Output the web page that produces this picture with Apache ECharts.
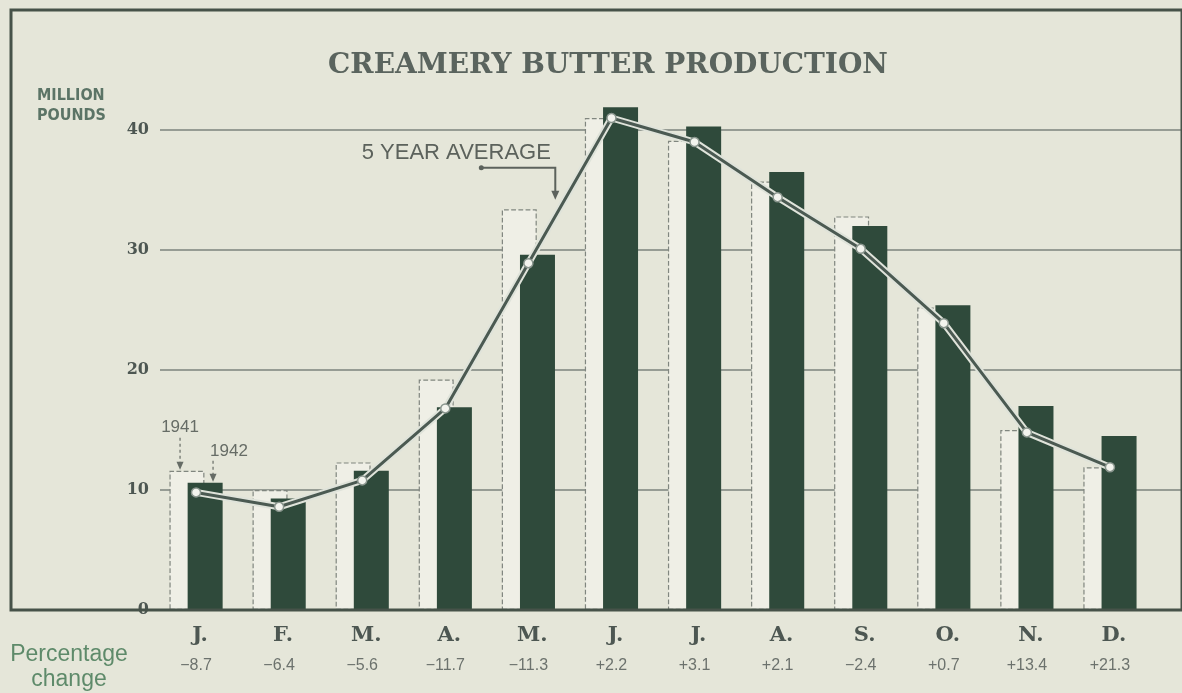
<!DOCTYPE html>
<html><head><meta charset="utf-8">
<script src="https://cdn.jsdelivr.net/npm/echarts@6/dist/echarts.min.js"></script>
<style>html,body{margin:0;padding:0;background:#e5e6d9;}#c{width:1182px;height:693px;}</style>
</head><body><div id="c"></div>
<script>
// ---- data ----
const monthKeys = ['Jan','Feb','Mar','Apr','May','Jun','Jul','Aug','Sep','Oct','Nov','Dec'];
const monthLabels = ['J.','F.','M.','A.','M.','J.','J.','A.','S.','O.','N.','D.'];
const prod1941 = [11.6, 10.0, 12.3, 19.2, 33.4, 41.0, 39.1, 35.7, 32.8, 25.2, 15.0, 11.9];
const prod1942 = [10.6, 9.3, 11.6, 16.9, 29.6, 41.9, 40.3, 36.5, 32.0, 25.4, 17.0, 14.5];
const fiveYearAvg = [9.8, 8.6, 10.8, 16.8, 28.9, 41.0, 39.0, 34.4, 30.1, 23.9, 14.8, 11.9];
const pctChange = ['\u22128.7','\u22126.4','\u22125.6','\u221211.7','\u221211.3','+2.2','+3.1','+2.1','\u22122.4','+0.7','+13.4','+21.3'];
const yTickLabels = ['0','10','20','30','40'];

const chart = echarts.init(document.getElementById('c'), null, {renderer: 'canvas'});

const option = {
  animation: false,
  backgroundColor: '#e5e6d9',
  title: [
    {text: 'CREAMERY BUTTER PRODUCTION', left: 603, top: 47, textAlign: 'center',
     textStyle: {fontFamily: 'DejaVu Serif', fontWeight: 'bold', fontSize: 28, color: '#5a645e'}},
    {text: 'MILLION\nPOUNDS', left: 32, top: 81,
     textStyle: {fontFamily: 'DejaVu Sans Condensed', fontWeight: 'bold', fontSize: 16, lineHeight: 20, color: '#5b7466'}},
    {text: 'Percentage\nchange', left: 64, top: 637, textAlign: 'center',
     textStyle: {fontFamily: 'Liberation Sans', fontWeight: 'normal', fontSize: 23, lineHeight: 25, color: '#5e8a6a'}}
  ],
  grid: [
    {left: 11, right: -20, top: 10, bottom: 83, show: true, z: 6, borderColor: '#465249', borderWidth: 3, backgroundColor: 'transparent'},
    {left: 160, right: 0, top: 10, bottom: 83},
    {left: 154.5, width: 997, top: 10, bottom: 83}
  ],
  xAxis: [
    {gridIndex: 0, type: 'value', show: false, min: 0, max: 1},
    {gridIndex: 1, type: 'value', show: false, min: 0, max: 1},
    {gridIndex: 2, type: 'category', data: monthKeys, boundaryGap: true,
     axisLine: {show: false}, axisTick: {show: false},
     axisLabel: {margin: 11, interval: 0,
       formatter: (v, i) => '{m|' + monthLabels[i] + '}\n{p|' + pctChange[i] + '}',
       rich: {
         m: {fontFamily: 'DejaVu Serif', fontWeight: 'bold', fontSize: 21, lineHeight: 30, color: '#4d5752', padding: [0, 0, 0, 8]},
         p: {fontFamily: 'Liberation Sans', fontSize: 16, lineHeight: 30, color: '#6c726d'}
       }}}
  ],
  yAxis: [
    {gridIndex: 0, type: 'value', show: false, min: 0, max: 1},
    {gridIndex: 1, type: 'value', min: 0, max: 50, interval: 10,
     axisLine: {show: false}, axisTick: {show: false},
     axisLabel: {margin: 11, formatter: v => (v <= 40 ? yTickLabels[v / 10] : ''),
       fontFamily: 'DejaVu Serif', fontWeight: 'bold', fontSize: 16, color: '#4d5752'},
     splitLine: {show: true, lineStyle: {color: '#7b837c', width: 1.5}}},
    {gridIndex: 2, type: 'value', min: 0, max: 50, interval: 10, show: false, splitLine: {show: false}}
  ],
  series: [
    {name: '1941', type: 'bar', xAxisIndex: 2, yAxisIndex: 2, data: prod1941,
     barWidth: 35, barGap: '-48%',
     itemStyle: {color: '#efefe6', borderColor: '#80867f', borderWidth: 1.2, borderType: 'dashed'}},
    {name: '1942', type: 'bar', xAxisIndex: 2, yAxisIndex: 2, data: prod1942,
     barWidth: 35, barGap: '-48%',
     itemStyle: {color: '#2f4a3b'}},
    {name: 'halo', type: 'line', xAxisIndex: 2, yAxisIndex: 2, data: fiveYearAvg,
     symbol: 'none', lineStyle: {color: '#dfe3da', width: 7}, z: 4, silent: true},
    {name: '5 year average', type: 'line', xAxisIndex: 2, yAxisIndex: 2, data: fiveYearAvg,
     symbol: 'circle', symbolSize: 9,
     lineStyle: {color: '#4b5a52', width: 3},
     itemStyle: {color: '#f3f4ee', borderColor: '#8a968e', borderWidth: 1.5}, z: 5}
  ]
};
chart.setOption(option);

// annotations anchored through the library's scales
const px = (i, v) => chart.convertToPixel({xAxisIndex: 2, yAxisIndex: 2}, [i, v]);
const janC = px(0, 0)[0];
const annColor = '#666c66';
function arrowDown(x, y0, y1, dashed) {
  return [
    {type: 'line', shape: {x1: x, y1: y0, x2: x, y2: y1 - 6},
     style: {stroke: annColor, lineWidth: 1.2, lineDash: dashed ? [3, 3] : null}, z: 20},
    {type: 'polygon', shape: {points: [[x - 3.5, y1 - 8], [x + 3.5, y1 - 8], [x, y1]]},
     style: {fill: annColor}, z: 20}
  ];
}
const a41x = janC - 16, a42x = janC + 17;
const y41top = px(0, prod1941[0])[1], y42top = px(0, prod1942[0])[1];
const avgLbl = px(3, 38.1);
const tx = avgLbl[0] + 11, ty = avgLbl[1];
const g = [
  {type: 'text', style: {text: '1941', x: a41x, y: y41top - 43, textAlign: 'center', textVerticalAlign: 'middle',
    font: '17px "Liberation Sans"', fill: annColor}, z: 20},
  ...arrowDown(a41x, y41top - 33, y41top - 1, true),
  {type: 'text', style: {text: '1942', x: a42x - 3, y: y42top - 31, textAlign: 'left', textVerticalAlign: 'middle',
    font: '17px "Liberation Sans"', fill: annColor}, z: 20},
  ...arrowDown(a42x, y42top - 22, y42top - 1, true),
  {type: 'text', style: {text: '5 YEAR AVERAGE', x: tx, y: ty, textAlign: 'center', textVerticalAlign: 'middle',
    font: '22px "Liberation Sans"', fill: '#5c625c'}, z: 20},
  {type: 'polyline', shape: {points: [[tx + 24, ty + 15], [tx + 99, ty + 15], [tx + 99, ty + 40]]},
    style: {stroke: '#5c625c', lineWidth: 2, fill: null}, z: 20},
  {type: 'circle', shape: {cx: tx + 25, cy: ty + 15, r: 2.5}, style: {fill: '#5c625c'}, z: 20},
  {type: 'polygon', shape: {points: [[tx + 95, ty + 38], [tx + 103, ty + 38], [tx + 99, ty + 47]]},
    style: {fill: '#5c625c'}, z: 20}
];
chart.setOption({graphic: g});
</script>
</body></html>
